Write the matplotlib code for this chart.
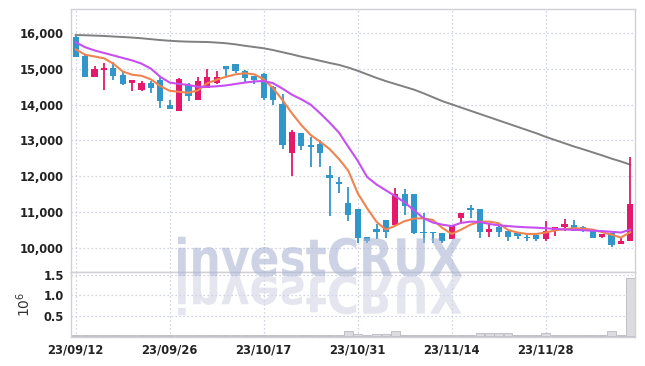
import matplotlib
matplotlib.use('Agg')
import matplotlib.pyplot as plt
import numpy as np
from matplotlib.textpath import TextPath
from matplotlib.patches import PathPatch
from matplotlib.font_manager import FontProperties, fontManager
from matplotlib.transforms import Affine2D

dates = ["23/09/12", "23/09/13", "23/09/14", "23/09/15", "23/09/18", "23/09/19", "23/09/20",
         "23/09/21", "23/09/22", "23/09/25", "23/09/26", "23/09/27", "23/10/04", "23/10/05",
         "23/10/06", "23/10/10", "23/10/11", "23/10/12", "23/10/13", "23/10/16", "23/10/17",
         "23/10/18", "23/10/19", "23/10/20", "23/10/23", "23/10/24", "23/10/25", "23/10/26",
         "23/10/27", "23/10/30", "23/10/31", "23/11/01", "23/11/02", "23/11/03", "23/11/06",
         "23/11/07", "23/11/08", "23/11/09", "23/11/10", "23/11/13", "23/11/14", "23/11/15",
         "23/11/16", "23/11/17", "23/11/20", "23/11/21", "23/11/22", "23/11/23", "23/11/24",
         "23/11/27", "23/11/28", "23/11/29", "23/11/30", "23/12/01", "23/12/04", "23/12/05",
         "23/12/06", "23/12/07", "23/12/08", "23/12/11"]

opens = [15900, 15364, 14784, 14970, 15036, 14830, 14600, 14410, 14600, 14690,
         13990, 13830, 14565, 14130, 14460, 14600, 15080, 15140, 14950, 14800,
         14860, 14490, 14020, 12655, 13210, 12870, 12900, 12030, 11835, 11250,
         11070, 10285, 10520, 10770, 10640, 11500, 11500, 10445, 10415, 10415,
         10250, 10835, 11115, 11080, 10425, 10565, 10455, 10415, 10300, 10340,
         10240, 10470, 10575, 10630, 10575, 10460, 10300, 10400, 10090, 10190]
highs = [15910, 15380, 15090, 15180, 15200, 14940, 14700, 14670, 14650, 14790,
         14130, 14740, 14600, 14785, 15000, 14930, 15090, 15150, 14960, 14810,
         14880, 14530, 14290, 13290, 13220, 13105, 13010, 12280, 11985, 11690,
         11080, 10300, 10660, 10780, 11660, 11630, 11510, 10975, 10420, 10420,
         10630, 10960, 11190, 11085, 10680, 10650, 10460, 10420, 10390, 10345,
         10740, 10580, 10790, 10760, 10600, 10480, 10370, 10410, 10285, 12530]
lows = [15340, 14770, 14784, 14400, 14690, 14560, 14390, 14390, 14340, 13900,
        13880, 13830, 14100, 14130, 14460, 14580, 14790, 14900, 14615, 14570,
        14130, 13990, 12750, 12010, 12740, 12245, 12245, 10880, 11520, 10740,
        10120, 10135, 10230, 10260, 10640, 10910, 10380, 10135, 10135, 10135,
        10240, 10715, 10820, 10260, 10300, 10300, 10180, 10250, 10190, 10190,
        10190, 10310, 10470, 10460, 10445, 10260, 10270, 10025, 10090, 10170]
closes = [15345, 14784, 14990, 15030, 14800, 14590, 14685, 14610, 14460, 14090,
          13890, 14720, 14250, 14660, 14770, 14775, 15010, 14930, 14760, 14690,
          14190, 14130, 12870, 13240, 12850, 12825, 12655, 11955, 11770, 10910,
          10275, 10195, 10445, 10445, 11500, 11170, 10415, 10405, 10400, 10190,
          10630, 10960, 11050, 10445, 10520, 10425, 10295, 10330, 10265, 10245,
          10460, 10575, 10660, 10460, 10480, 10265, 10370, 10080, 10190, 11220]

ma_short = [15550, 15400, 15350, 15300, 15150, 14930, 14840, 14810, 14710, 14520,
            14390, 14360, 14335, 14400, 14600, 14700, 14780, 14850, 14880, 14850,
            14710, 14460, 14130, 13760, 13430, 13150, 12965, 12760, 12480, 12150,
            11520, 11100, 10720, 10500, 10610, 10740, 10810, 10820, 10770, 10550,
            10380, 10500, 10640, 10725, 10725, 10680, 10490, 10420, 10380, 10380,
            10420, 10480, 10515, 10540, 10530, 10500, 10430, 10360, 10280, 10430]
ma_mid = [15750, 15610, 15520, 15450, 15380, 15310, 15240, 15150, 15010, 14780,
          14620, 14580, 14555, 14500, 14500, 14515, 14540, 14580, 14620, 14650,
          14665, 14600, 14450, 14280, 14150, 14000, 13760, 13500, 13220, 12820,
          12430, 11975, 11765, 11600, 11440, 11260, 11040, 10820, 10700, 10640,
          10600, 10690, 10725, 10715, 10660, 10620, 10600, 10580, 10565, 10555,
          10540, 10520, 10505, 10495, 10485, 10470, 10460, 10440, 10420, 10500]
ma_long = [15950, 15945, 15935, 15925, 15910, 15895, 15880, 15860, 15835, 15810,
           15790, 15775, 15765, 15760, 15755, 15740, 15720, 15690, 15650, 15615,
           15580, 15530, 15470, 15410, 15345, 15290, 15230, 15170, 15115, 15040,
           14950, 14850, 14750, 14660, 14580, 14500, 14420, 14320, 14210, 14100,
           14010, 13920, 13830, 13740, 13650, 13560, 13470, 13380, 13290, 13200,
           13100, 13010, 12920, 12830, 12750, 12665, 12580, 12490, 12410, 12320]
volume_m = [0.02, 0.02, 0.01, 0.01, 0.01, 0.02, 0.01, 0.01, 0.01, 0.02,
            0.01, 0.01, 0.01, 0.01, 0.01, 0.01, 0.01, 0.01, 0.01, 0.01,
            0.02, 0.01, 0.02, 0.03, 0.01, 0.01, 0.02, 0.02, 0.01, 0.12,
            0.05, 0.01, 0.04, 0.04, 0.12, 0.03, 0.03, 0.01, 0.01, 0.01,
            0.02, 0.01, 0.01, 0.08, 0.08, 0.06, 0.08, 0.02, 0.01, 0.01,
            0.08, 0.01, 0.01, 0.01, 0.01, 0.01, 0.01, 0.12, 0.02, 1.44]

UP = '#e5196b'
DOWN = '#3196c9'
GRID = '#c3c7d9'

names = {f.name for f in fontManager.ttflist}
if any(f.name == 'DejaVu Sans' and f.stretch == 'condensed' for f in fontManager.ttflist):
    TICKPROP = dict(family=['DejaVu Sans'], stretch='condensed', weight='bold')
elif 'Liberation Sans Narrow' in names:
    TICKPROP = dict(family=['Liberation Sans Narrow'], weight='bold')
else:
    TICKPROP = dict(family=['Roboto'], weight='medium')

fig = plt.figure(figsize=(6.45, 3.66), dpi=100)
W, H = 645, 366
ax = fig.add_axes([71 / W, 94 / H, 564 / W, 263 / H])
axv = fig.add_axes([71 / W, 29 / H, 564 / W, 65 / H], sharex=ax)

x = np.arange(len(dates))
o = np.array(opens); c = np.array(closes)
hi = np.array(highs); lo = np.array(lows)
cols = [UP if cc >= oo else DOWN for oo, cc in zip(o, c)]

ax.plot(x, ma_long, color='#808080', lw=1.4, zorder=2)
ax.vlines(x, lo, hi, colors=cols, lw=1.3, zorder=3)
body = np.maximum(np.abs(c - o), 25)
ax.bar(x, body, bottom=np.minimum(o, c), width=0.64, color=cols, zorder=4)
ax.plot(x, ma_short, color='#ef8450', lw=1.5, zorder=5)
ax.plot(x, ma_mid, color='#c74ef0', lw=1.5, zorder=5)

axv.bar(x, volume_m, width=0.9, color='#dcdce0', edgecolor='#b8b8bf', lw=0.6)

for a in (ax, axv):
    for s in a.spines.values():
        s.set_color('#d0d0d6')
        s.set_linewidth(1.0)
    a.grid(True, color=GRID, linestyle=(0, (1, 2.2)), lw=0.9)
    a.set_axisbelow(True)
    a.tick_params(length=0, colors='#222222')

ax.set_xlim(-0.5, 59.5)
ax.set_ylim(9314, 16680)
yt = [10000, 11000, 12000, 13000, 14000, 15000, 16000]
ax.set_yticks(yt)
ax.set_yticklabels([f"{v:,}" for v in yt], fontsize=9.2, **TICKPROP)
ax.tick_params(axis='y', pad=5)
plt.setp(ax.get_xticklabels(), visible=False)

tick_idx = list(range(0, 60, 10))
axv.set_xticks(tick_idx)
axv.set_xticklabels([dates[i] for i in tick_idx], fontsize=9.2, **TICKPROP)
axv.tick_params(axis='x', pad=5)
axv.set_ylim(-0.03, 1.58)
axv.set_yticks([0.5, 1.0, 1.5])
axv.set_yticklabels(['0.5', '1.0', '1.5'], fontsize=9.2, **TICKPROP)
axv.tick_params(axis='y', pad=5)
axv.set_ylabel('10$^6$', fontsize=10, color='#333333', labelpad=8)

# watermark with reflection
tp = TextPath((0, 0), "investCRUX", size=1, prop=FontProperties(family='DejaVu Sans', weight='bold'))
ext = tp.get_extents()
sx = 284 / ext.width
sy = 40 / ext.height
x0, yb = 178, H - 276
main_tr = Affine2D().translate(-ext.x0, 0).scale(sx, sy).translate(x0, yb)
ref_tr = Affine2D().translate(-ext.x0, 0).scale(sx, -sy).translate(x0, yb)
fig.add_artist(PathPatch(tp, transform=main_tr, facecolor=(172/255, 182/255, 210/255), edgecolor='none', alpha=0.6, zorder=10))
fig.add_artist(PathPatch(tp, transform=ref_tr, facecolor=(210/255, 213/255, 227/255), edgecolor='none', alpha=0.6, zorder=10))

fig.savefig('out.png', dpi=100)
